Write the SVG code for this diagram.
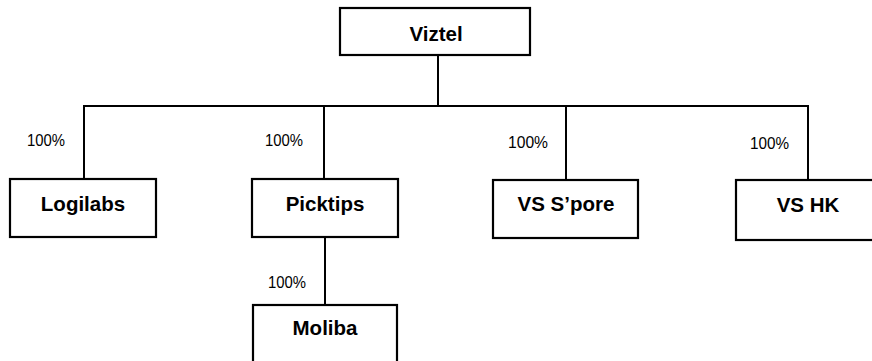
<svg xmlns="http://www.w3.org/2000/svg" width="872" height="361" viewBox="0 0 872 361">
<style>
.box{fill:#fff;stroke:#000;stroke-width:2.2}
.name{font-family:"Liberation Sans",Arial,sans-serif;font-weight:bold;font-size:20.5px;text-anchor:middle;fill:#000}
.pct{font-family:"Liberation Sans",Arial,sans-serif;font-size:16px;fill:#000}
.ln{stroke:#000;stroke-width:2;fill:none}
</style>
<rect width="872" height="361" fill="#fff"/>
<g id="connectors">
<line class="ln" x1="438" y1="55" x2="438" y2="106"/>
<line class="ln" x1="83" y1="106" x2="809" y2="106"/>
<line class="ln" x1="84" y1="106" x2="84" y2="179"/>
<line class="ln" x1="324" y1="106" x2="324" y2="179"/>
<line class="ln" x1="566" y1="106" x2="566" y2="180"/>
<line class="ln" x1="808" y1="106" x2="808" y2="180"/>
<line class="ln" x1="325" y1="237" x2="325" y2="305"/>
</g>
<g id="labels">
<text class="pct" x="27" y="146" textLength="38" lengthAdjust="spacingAndGlyphs">100%</text>
<text class="pct" x="265" y="146" textLength="38" lengthAdjust="spacingAndGlyphs">100%</text>
<text class="pct" x="508" y="148" textLength="40" lengthAdjust="spacingAndGlyphs">100%</text>
<text class="pct" x="750" y="149" textLength="39" lengthAdjust="spacingAndGlyphs">100%</text>
<text class="pct" x="268" y="288" textLength="38" lengthAdjust="spacingAndGlyphs">100%</text>
</g>
<g id="viztel">
<rect class="box" x="340" y="8" width="190" height="47"/>
<text class="name" x="436" y="41">Viztel</text>
</g>
<g id="logilabs">
<rect class="box" x="10" y="179" width="146" height="58"/>
<text class="name" x="83" y="211">Logilabs</text>
</g>
<g id="picktips">
<rect class="box" x="252" y="179" width="146" height="58"/>
<text class="name" x="325" y="211">Picktips</text>
</g>
<g id="vs-spore">
<rect class="box" x="493" y="180" width="145" height="58"/>
<text class="name" x="566" y="211">VS S’pore</text>
</g>
<g id="vs-hk">
<rect class="box" x="736" y="180" width="145" height="60"/>
<text class="name" x="808" y="212">VS HK</text>
</g>
<g id="moliba">
<rect class="box" x="253" y="305" width="144" height="70"/>
<text class="name" x="325" y="335">Moliba</text>
</g>
</svg>
